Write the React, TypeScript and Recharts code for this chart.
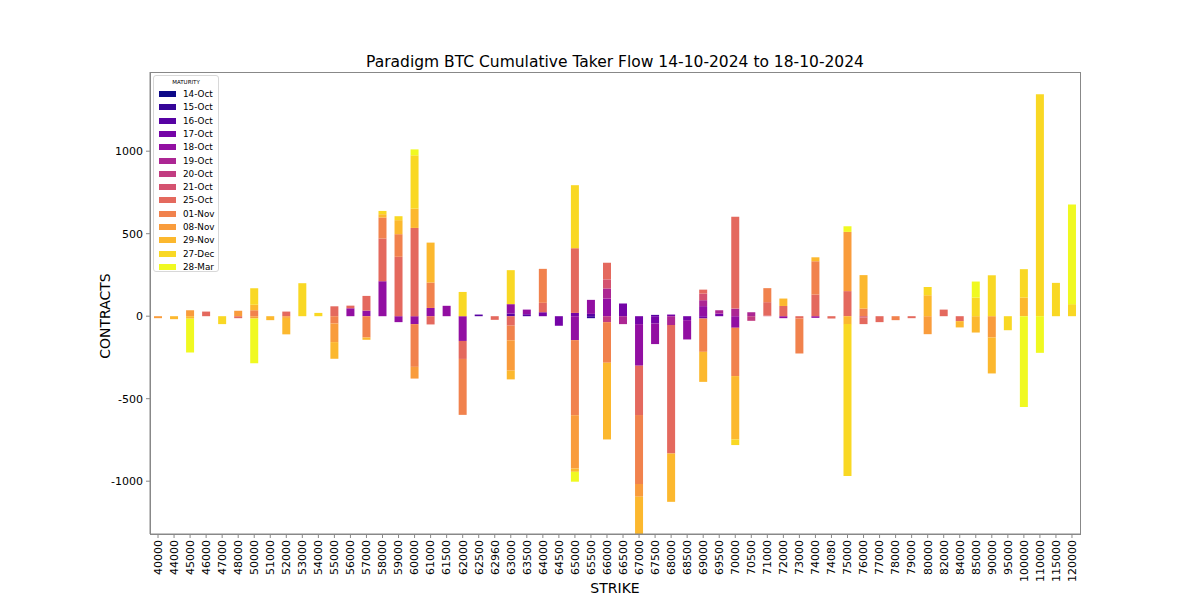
import React from "react";
import { BarChart, Bar, XAxis, YAxis } from "recharts";

const STRIKES = [
  "40000", "44000", "45000", "46000", "47000", "48000", "50000", "51000", "52000", "53000",
  "54000", "55000", "56000", "57000", "58000", "59000", "60000", "61000", "61500", "62000",
  "62500", "62960", "63000", "63500", "64000", "64500", "65000", "65500", "66000", "66500",
  "67000", "67500", "68000", "68500", "69000", "69500", "70000", "70500", "71000", "72000",
  "73000", "74000", "74080", "75000", "76000", "77000", "78000", "79000", "80000", "82000",
  "84000", "85000", "90000", "95000", "100000", "110000", "115000", "120000",
];

const MATURITIES = [
  "14-Oct", "15-Oct", "16-Oct", "17-Oct", "18-Oct", "19-Oct", "20-Oct",
  "21-Oct", "25-Oct", "01-Nov", "08-Nov", "29-Nov", "27-Dec", "28-Mar",
];

// plasma colormap, one step per maturity
const COLORS = [
  "#0d0887", "#350598", "#5702a3", "#7504a7", "#920fa2", "#ac2693", "#c23c81",
  "#d45270", "#e4695e", "#f1824d", "#f99c3c", "#fcb82e", "#f9d824", "#f0f921",
];

const OCT14 = [
  0, 0, 0, 0, 0, 0, 0, 0, 0, 0,  0, 0, 0, 0, 0, 0, 0, 0, 0, 0,
  0, 0, 0, 0, 0, 0, 0, 0, 0, 0,  0, 0, 0, 0, 0, 0, 0, 0, 0, 0,
  0, 0, 0, 0, 0, 0, 0, 0, 0, 0,  0, 0, 0, 0, 0, 0, 0, 0,
];
const OCT15 = [
  0, 0, 0, 0, 0, 0, 0, 0, 0, 0,  0, 0, 0, 0, 0, 0, 0, 0, 0, 0,
  0, 0, 0, 0, 0, 0, 0, -12, 0, 0,  0, 0, 0, 0, 0, 0, 0, 0, 0, 0,
  0, 0, 0, 0, 0, 0, 0, 0, 0, 0,  0, 0, 0, 0, 0, 0, 0, 0,
];
const OCT16 = [
  0, 0, 0, 0, 0, 0, 0, 0, 0, 0,  0, 0, 0, 0, 0, 0, 0, 0, 0, 0,
  10, 0, 16, 12, 0, 0, 0, 14, 0, 0,  0, 8, 0, 0, 0, 0, 0, 0, 0, 0,
  0, 0, 0, 0, 0, 0, 0, 0, 0, 0,  0, 0, 0, 0, 0, 0, 0, 0,
];
const OCT17 = [
  0, 0, 0, 0, 0, 0, 0, 0, 0, 0,  0, 0, 0, 0, 0, 0, 0, 0, 0, 0,
  0, 0, 0, 0, 24, -58, 20, 0, 0, 77,  -48, -44, 10, -24, -14, 16, 0, 0, 0, 0,
  0, 0, 0, 0, 0, 0, 0, 0, 0, 0,  0, 0, 0, 0, 0, 0, 0, 0,
];
const OCT18 = [
  0, 0, 0, 0, 0, 0, 0, 0, 0, 0,  0, 0, 48, 34, 212, -36, -48, 50, 63, -150,
  0, 0, 57, 28, 0, 0, -145, 85, 107, 0,  -252, -125, 0, -117, 61, 0, -70, 0, 0, -12,
  0, -10, 0, 0, 0, 0, 0, 0, 0, 0,  0, 0, 0, 0, 0, 0, 0, 0,
];
const OCT19 = [
  0, 0, 0, 0, 0, 0, 0, 0, 0, 0,  0, 0, 0, 0, 0, 0, 0, 0, 0, 0,
  0, 0, 0, 0, 0, 0, 0, 0, 61, -48,  0, 0, -54, 0, 36, 20, 46, 24, 0, 0,
  0, 0, 0, 0, 0, 0, 0, 0, 0, 0,  0, 0, 0, 0, 0, 0, 0, 0,
];
const OCT20 = [
  0, 0, 0, 0, 0, 0, 0, 0, 0, 0,  0, 0, 0, 0, 0, 0, 0, 0, 0, 0,
  0, 0, 0, 0, 0, 0, 0, 0, -36, 0,  0, 0, 0, 0, 0, 0, 0, -28, 0, 0,
  0, 0, 0, 0, 0, 0, 0, 0, 0, 0,  0, 0, 0, 0, 0, 0, 0, 0,
];
const OCT21 = [
  0, 0, 0, 0, 0, 0, 0, 0, 0, 0,  0, 0, 0, 0, 0, 0, 0, 0, 0, 0,
  0, 0, 0, 0, 0, 0, 0, 0, 55, 0,  0, 0, 0, 0, 40, 0, 0, 0, 4, 0,
  0, 0, 0, 0, -8, 0, 0, 0, 0, 0,  0, 0, 0, 0, 0, 0, 0, 0,
];
const OCT25 = [
  0, 0, 0, 28, 0, -12, 0, 0, 28, 0,  0, 60, 16, 89, 259, 360, 535, -50, 0, -109,
  0, -22, -57, 0, 57, 0, 392, 0, 101, 0,  -299, 0, -778, 0, 24, 0, 556, 0, 81, 62,
  -14, 131, -14, 152, -40, -36, 0, -12, 0, 40,  -30, 0, 0, 0, 0, 0, 0, 0,
];
const NOV01 = [
  0, 0, 0, 0, 0, 0, 36, 0, 0, 0,  0, -44, 0, -129, 127, 137, -259, 154, 0, -339,
  0, 0, -89, 0, 206, 0, -455, 0, -246, 0,  -418, 0, 0, 0, -202, 0, -293, 0, 85, 0,
  -212, 202, 0, 0, 46, 0, -24, 0, 0, 0,  0, 0, 0, 0, 0, 0, 0, 0,
];
const NOV08 = [
  -12, 0, 36, 0, 0, 33, -14, 0, -10, 0,  0, -113, 0, 0, 0, 0, -71, 0, 0, 0,
  0, 0, -184, 0, 0, 0, -323, 0, 0, 0,  -77, 0, 0, 0, 0, 0, 0, 0, 0, 0,
  0, 0, 0, 359, 0, 0, 0, 0, -109, 0,  0, 0, -129, 0, 0, 0, 0, 0,
];
const NOV29 = [
  0, -18, -15, 0, 0, 0, 34, -24, -100, 0,  0, -101, 0, -14, 20, 85, 117, 242, 0, 0,
  0, 0, -53, 0, 0, 0, -20, 0, -465, 0,  -226, 0, -293, 0, -182, 0, -384, 0, 0, 45,
  0, 24, 0, -48, 203, 0, 0, 0, 127, 0,  -38, -99, -218, 0, 113, 0, 0, 0,
];
const DEC27 = [
  0, 0, 0, 0, -48, 0, 100, 0, 0, 200,  20, 0, 0, 0, 20, 24, 323, 0, 0, 147,
  0, 0, 206, 0, 0, 0, 382, 0, 0, 0,  0, 0, 0, 0, 0, 0, -34, 0, 0, 0,
  0, 0, 0, -921, 0, 0, 0, 0, 50, 0,  0, 113, 248, -85, 172, 1345, 202, 73,
];
const MAR28 = [
  0, 0, -205, 0, 0, 0, -271, 0, 0, 0,  0, 0, 0, 0, 0, 0, 36, 0, 0, 0,
  0, 0, 0, 0, 0, 0, -60, 0, 0, 0,  0, 0, 0, 0, 0, 0, 0, 0, 0, 0,
  0, 0, 0, 34, 0, 0, 0, 0, 0, 0,  0, 97, 0, 0, -550, -222, 0, 604,
];

const SERIES = [OCT14, OCT15, OCT16, OCT17, OCT18, OCT19, OCT20, OCT21, OCT25, NOV01, NOV08, NOV29, DEC27, MAR28];

const Y_TICKS = [-1000, -500, 0, 500, 1000];

const data = STRIKES.map((strike, i) => {
  const row: Record<string, string | number> = { strike };
  SERIES.forEach((values, j) => {
    row["s" + j] = values[i];
  });
  return row;
});

const FONT = "'DejaVu Sans', Verdana, sans-serif";
const AXIS = "#888";

const StrikeTick = (props: any) => {
  const { x, y, payload } = props;
  return (
    <text
      x={x}
      y={y}
      transform={`rotate(-90, ${x}, ${y})`}
      textAnchor="end"
      dy="0.35em"
      fontSize={11}
      fontFamily={FONT}
      fill="#000"
    >
      {payload.value}
    </text>
  );
};

export default function App() {
  return (
    <div style={{ position: "absolute", left: 0, top: 0, width: 1200, height: 600, background: "#fff", fontFamily: FONT }}>
      <BarChart
        width={1200}
        height={600}
        data={data}
        stackOffset="sign"
        barCategoryGap="25%"
        margin={{ top: 72, right: 120, bottom: 0, left: 0 }}
      >
        <XAxis
          dataKey="strike"
          interval={0}
          height={66}
          tick={<StrikeTick />}
          tickSize={4}
          tickMargin={2}
          stroke={AXIS}
        />
        <YAxis
          width={150}
          domain={[-1320, 1480]}
          ticks={Y_TICKS}
          tickSize={4}
          tickMargin={3}
          stroke={AXIS}
          tick={{ fontSize: 11, fill: "#000", fontFamily: FONT }}
        />
        {MATURITIES.map((m, j) => (
          <Bar key={m} dataKey={"s" + j} name={m} stackId="flow" fill={COLORS[j]} isAnimationActive={false} />
        ))}
      </BarChart>

      {/* frame */}
      <div
        style={{
          position: "absolute",
          left: 150,
          top: 72,
          width: 931,
          height: 463,
          border: `1px solid ${AXIS}`,
          boxSizing: "border-box",
          pointerEvents: "none",
        }}
      />

      <div
        style={{
          position: "absolute",
          left: 615,
          top: 62,
          transform: "translate(-50%, -50%)",
          fontSize: 15.5,
          whiteSpace: "nowrap",
          color: "#000",
        }}
      >
        Paradigm BTC Cumulative Taker Flow 14-10-2024 to 18-10-2024
      </div>
      <div
        style={{
          position: "absolute",
          left: 105,
          top: 316,
          transform: "translate(-50%, -50%) rotate(-90deg)",
          fontSize: 14,
          whiteSpace: "nowrap",
          color: "#000",
        }}
      >
        CONTRACTS
      </div>
      <div
        style={{
          position: "absolute",
          left: 615,
          top: 588,
          transform: "translate(-50%, -50%)",
          fontSize: 14,
          whiteSpace: "nowrap",
          color: "#000",
        }}
      >
        STRIKE
      </div>

      {/* legend */}
      <div
        style={{
          position: "absolute",
          left: 153,
          top: 75,
          width: 66,
          height: 197,
          border: "1px solid #d8d8d8",
          borderRadius: 3,
          background: "rgba(255,255,255,0.85)",
          boxSizing: "border-box",
        }}
      >
        <div style={{ position: "absolute", left: 0, right: 0, top: 3, textAlign: "center", fontSize: 5.5, color: "#000" }}>
          MATURITY
        </div>
        {MATURITIES.map((m, j) => (
          <div key={m} style={{ position: "absolute", left: 5, top: 12 + j * 13.3, height: 12, display: "flex", alignItems: "center" }}>
            <span style={{ display: "inline-block", width: 17, height: 6, background: COLORS[j] }} />
            <span style={{ marginLeft: 7, fontSize: 8.8, color: "#000", whiteSpace: "nowrap" }}>{m}</span>
          </div>
        ))}
      </div>
    </div>
  );
}
